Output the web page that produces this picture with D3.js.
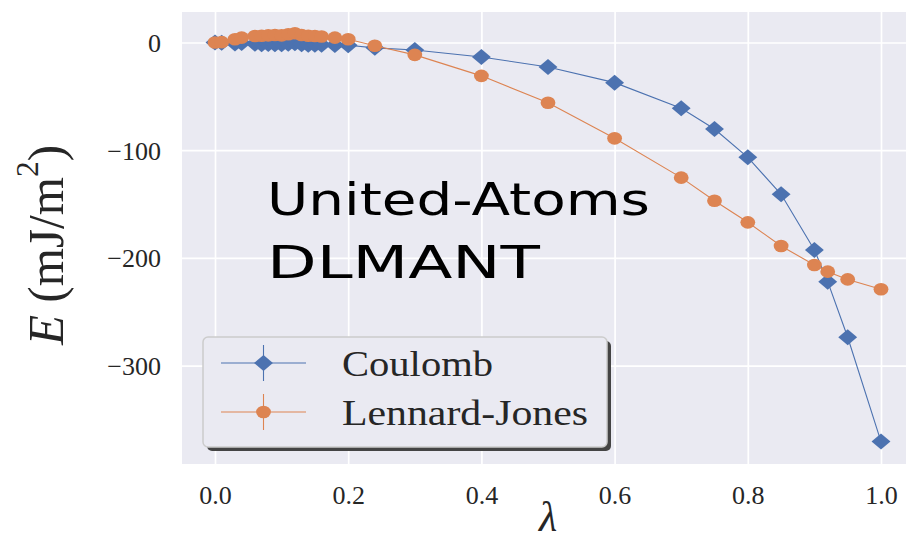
<!DOCTYPE html>
<html>
<head>
<meta charset="utf-8">
<script src="https://cdn.jsdelivr.net/npm/d3@7"></script>
<style>
  html, body { margin: 0; padding: 0; background: #ffffff; }
  svg { display: block; }
</style>
</head>
<body>
<svg id="chart" width="906" height="543"></svg>
<script>
// Coupling parameter values and interaction energies (mJ/m^2)
const lambdas = [0, 0.01, 0.03, 0.04, 0.06, 0.07, 0.08, 0.09, 0.10, 0.11, 0.12, 0.13, 0.14, 0.15, 0.16, 0.18, 0.20, 0.24, 0.30, 0.40, 0.50, 0.60, 0.70, 0.75, 0.80, 0.85, 0.90, 0.92, 0.95, 1.00];
const coulomb = [0, -0.3, -1.0, -0.6, -1.2, -1.6, -1.3, -1.7, -1.6, -1.2, -0.8, -1.6, -2.0, -2.2, -2.0, -2.3, -2.6, -5.0, -7.0, -13.5, -22.7, -37.3, -61.1, -80.3, -106.6, -141.0, -192.7, -222.1, -273.7, -370.6];
const lennardJones = [0, 0.3, 3.0, 4.5, 6.0, 6.2, 6.6, 7.0, 6.6, 7.6, 8.5, 7.0, 6.2, 6.0, 5.5, 4.5, 3.0, -3.0, -11.5, -31.0, -56.0, -89.0, -125.5, -147.0, -167.0, -189.0, -206.6, -212.8, -220.0, -229.2];

const seriesNames = ["Coulomb", "Lennard-Jones"];
const seriesColors = ["#4c72b0", "#dd8452"];
const xTicks = [0.0, 0.2, 0.4, 0.6, 0.8, 1.0];
const yTicks = [0, -100, -200, -300];
const xDomain = [-0.05, 1.05];
const yDomain = [28.3, -391.4];
const annotationLines = ["United-Atoms", "DLMANT"];

const svg = d3.select("#chart");
const plot = { left: 182, right: 914.3, top: 12, bottom: 464 };

const x = d3.scaleLinear().domain(xDomain).range([181.7, 914.3]);
const y = d3.scaleLinear().domain(yDomain).range([plot.top, plot.bottom]);

const serif = "'Liberation Serif', 'DejaVu Serif', serif";

// background
svg.append("rect")
  .attr("x", plot.left).attr("y", plot.top)
  .attr("width", plot.right - plot.left).attr("height", plot.bottom - plot.top)
  .attr("fill", "#eaeaf2");

svg.append("clipPath").attr("id", "plotClip")
  .append("rect")
  .attr("x", plot.left).attr("y", plot.top)
  .attr("width", plot.right - plot.left).attr("height", plot.bottom - plot.top);

// grid
const grid = svg.append("g").attr("clip-path", "url(#plotClip)");
grid.append("g")
  .attr("transform", `translate(0,${plot.bottom})`)
  .call(d3.axisBottom(x).tickValues(xTicks).tickSize(-(plot.bottom - plot.top)).tickFormat(""))
  .call(g => g.select(".domain").remove())
  .call(g => g.selectAll("line").attr("stroke", "#ffffff").attr("stroke-width", 1.7));
grid.append("g")
  .attr("transform", `translate(${plot.left},0)`)
  .call(d3.axisLeft(y).tickValues(yTicks).tickSize(-(plot.right - plot.left)).tickFormat(""))
  .call(g => g.select(".domain").remove())
  .call(g => g.selectAll("line").attr("stroke", "#ffffff").attr("stroke-width", 1.7));

// tick labels
const fmtY = d => d === 0 ? "0" : "\u2212" + Math.abs(d);
svg.append("g")
  .attr("transform", `translate(${plot.left},0)`)
  .call(d3.axisLeft(y).tickValues(yTicks).tickSize(0).tickPadding(21).tickFormat(fmtY))
  .call(g => g.select(".domain").remove())
  .call(g => g.selectAll("text")
    .attr("font-family", serif).attr("font-size", 26).attr("fill", "#262626")
    .attr("dy", "0.34em"));

svg.append("g")
  .attr("transform", `translate(0,${plot.bottom})`)
  .call(d3.axisBottom(x).tickValues(xTicks).tickSize(0).tickPadding(22).tickFormat(d3.format(".1f")))
  .call(g => g.select(".domain").remove())
  .call(g => g.selectAll("text")
    .attr("font-family", serif).attr("font-size", 26).attr("fill", "#262626"));

// axis titles
svg.append("text")
  .attr("transform", "translate(46,245) rotate(-90)")
  .attr("text-anchor", "middle")
  .attr("dominant-baseline", "central")
  .attr("font-family", serif).attr("font-size", 50).attr("fill", "#262626")
  .attr("textLength", 200).attr("lengthAdjust", "spacingAndGlyphs")
  .call(t => {
    t.append("tspan").attr("font-style", "italic").text("E");
    t.append("tspan").text(" (mJ/m");
    t.append("tspan").attr("font-size", 32).attr("dy", -19).text("2");
    t.append("tspan").attr("dy", 19).text(")");
  });

svg.append("text")
  .attr("x", x(0.5)).attr("y", 531)
  .attr("text-anchor", "middle")
  .attr("font-family", serif).attr("font-style", "italic")
  .attr("font-size", 42).attr("fill", "#262626")
  .text("\u03bb");

// annotation
const annot = svg.append("text")
  .attr("font-family", "'DejaVu Sans', sans-serif").attr("font-size", 44).attr("fill", "#000000");
annot.append("tspan").attr("x", 267).attr("y", 215)
  .attr("textLength", 383).attr("lengthAdjust", "spacingAndGlyphs").text(annotationLines[0]);
annot.append("tspan").attr("x", 267).attr("y", 278)
  .attr("textLength", 273).attr("lengthAdjust", "spacingAndGlyphs").text(annotationLines[1]);

// series
const data = [coulomb, lennardJones].map(vals =>
  lambdas.map((l, j) => ({ x: l, y: vals[j] })));

const line = d3.line().x(d => x(d.x)).y(d => y(d.y));
const diamond = d3.symbol(d3.symbolSquare, 128);

const marks = svg.append("g").attr("clip-path", "url(#plotClip)");

function drawMarker(sel, i) {
  if (i === 0) {
    sel.append("path")
      .attr("d", diamond)
      .attr("transform", d => `translate(${d.cx},${d.cy}) scale(1.18,1) rotate(45)`)
      .attr("fill", seriesColors[0]);
  } else {
    sel.append("ellipse")
      .attr("cx", d => d.cx).attr("cy", d => d.cy)
      .attr("rx", 7.4).attr("ry", 6.3)
      .attr("fill", seriesColors[1]);
  }
}

data.forEach((pts, i) => {
  const g = marks.append("g");
  g.append("path")
    .datum(pts)
    .attr("d", line)
    .attr("fill", "none")
    .attr("stroke", seriesColors[i])
    .attr("stroke-width", 1.1);
  const pg = g.selectAll("g.pt")
    .data(pts.map(p => ({ cx: x(p.x), cy: y(p.y) })))
    .join("g").attr("class", "pt");
  drawMarker(pg, i);
});

// legend
const legend = { x: 203, y: 337, w: 404, h: 110 };
svg.append("rect")
  .attr("x", legend.x + 4).attr("y", legend.y + 4)
  .attr("width", legend.w).attr("height", legend.h)
  .attr("rx", 5).attr("fill", "#444444");
svg.append("rect")
  .attr("x", legend.x).attr("y", legend.y)
  .attr("width", legend.w).attr("height", legend.h)
  .attr("rx", 5).attr("fill", "#eaeaf2")
  .attr("stroke", "#cccccc").attr("stroke-width", 1.5);

const legendRows = [363, 412];
const legendText = [151, 246];
seriesNames.forEach((name, i) => {
  const cy = legendRows[i];
  const g = svg.append("g");
  g.append("line").attr("x1", 221).attr("x2", 306).attr("y1", cy).attr("y2", cy)
    .attr("stroke", seriesColors[i]).attr("stroke-width", 1.1);
  g.append("line").attr("x1", 263.5).attr("x2", 263.5).attr("y1", cy - 18).attr("y2", cy + 18)
    .attr("stroke", seriesColors[i]).attr("stroke-width", 1.1);
  const mg = g.selectAll("g.m").data([{ cx: 263.5, cy: cy }]).join("g").attr("class", "m");
  drawMarker(mg, i);
  g.append("text")
    .attr("x", 342).attr("y", cy + 13)
    .attr("font-family", serif).attr("font-size", 36).attr("fill", "#262626")
    .attr("textLength", legendText[i]).attr("lengthAdjust", "spacingAndGlyphs")
    .text(name);
});
</script>
</body>
</html>
